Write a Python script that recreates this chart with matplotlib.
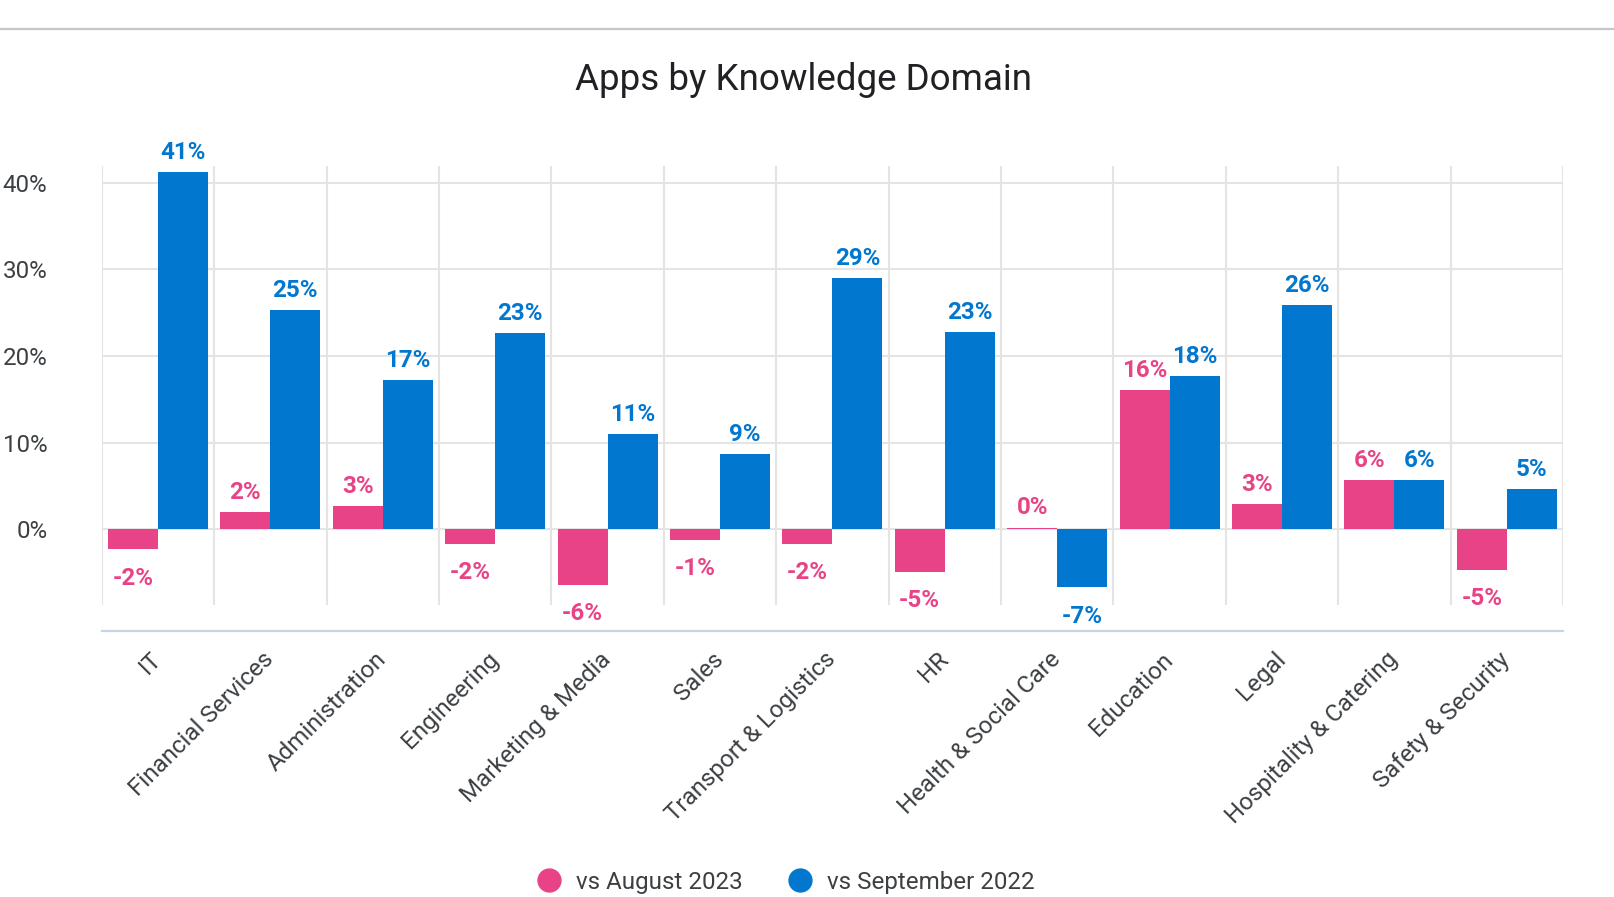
import numpy as np
import matplotlib
matplotlib.use("Agg")
import matplotlib.pyplot as plt
from matplotlib.lines import Line2D

plt.rcParams['font.family'] = ['Roboto', 'DejaVu Sans']

categories = ["IT", "Financial Services", "Administration", "Engineering",
              "Marketing & Media", "Sales", "Transport & Logistics", "HR",
              "Health & Social Care", "Education", "Legal",
              "Hospitality & Catering", "Safety & Security"]
vs_aug_2023 = [-2.3, 2.0, 2.7, -1.7, -6.4, -1.2, -1.7, -4.9, 0.2, 16.1, 2.9, 5.7, -4.7]
vs_sep_2022 = [41.2, 25.3, 17.2, 22.6, 11.0, 8.7, 29.0, 22.8, -6.7, 17.7, 25.9, 5.7, 4.6]
series_names = ["vs August 2023", "vs September 2022"]
ytick_values = [0, 10, 20, 30, 40]

PINK = '#E84387'
BLUE = '#0277CF'
TEXT = '#3c4043'
FS = 17.4

W, H = 1615, 897
fig = plt.figure(figsize=(W / 100, H / 100), dpi=100)
ax_left, ax_right, ax_top, ax_bottom = 101.7, 1563, 166, 631
ax = fig.add_axes([ax_left / W, 1 - ax_bottom / H, (ax_right - ax_left) / W, (ax_bottom - ax_top) / H])

x = np.arange(len(categories))
w = 0.445
ax.set_xlim(-0.5, len(categories) - 0.5)
ax.set_ylim(-11.74, 41.93)

b1 = ax.bar(x - w / 2, vs_aug_2023, w, color=PINK, zorder=3)
b2 = ax.bar(x + w / 2, vs_sep_2022, w, color=BLUE, zorder=3)

# gridlines
ax.set_yticks(ytick_values)
ax.set_yticklabels([f"{v}%" for v in ytick_values])
ax.yaxis.grid(True, color='#e4e4e4', lw=1.5, zorder=0)
ax.set_axisbelow(True)
ax.vlines(np.arange(len(categories) + 1) - 0.5, 0.056, 1.0,
          transform=ax.get_xaxis_transform(), color='#e4e4e4', lw=1.5, zorder=0)

for s in ['top', 'right', 'left']:
    ax.spines[s].set_visible(False)
ax.spines['bottom'].set_color('#c8d3e8')
ax.spines['bottom'].set_linewidth(1.6)

ax.set_xticks(x)
ax.set_xticklabels(categories, rotation=45, ha='right', va='center', rotation_mode='anchor',
                   fontsize=FS, color=TEXT)
ax.tick_params(axis='x', length=0, pad=18)
ax.tick_params(axis='y', length=0, pad=39, labelsize=FS, labelcolor=TEXT)

# data labels
for bars, vals, col in [(b1, vs_aug_2023, PINK), (b2, vs_sep_2022, BLUE)]:
    for rect, v in zip(bars, vals):
        cx = rect.get_x() + rect.get_width() / 2
        lbl = f"{v:.0f}%"
        if v >= 0:
            ax.annotate(lbl, (cx, v), xytext=(0, 9.5), textcoords='offset points',
                        ha='center', va='baseline', fontsize=FS, fontweight='bold', color=col)
        else:
            ax.annotate(lbl, (cx, v), xytext=(0, -25.5), textcoords='offset points',
                        ha='center', va='baseline', fontsize=FS, fontweight='bold', color=col)

# title
fig.text(804 / W, 1 - 90 / H, "Apps by Knowledge Domain", ha='center', va='baseline',
         fontsize=26.5, color='#202124')

# top separator line
fig.add_artist(Line2D([0, 1], [1 - 29 / H] * 2, transform=fig.transFigure,
                      color='#c4c7cb', lw=1.6))

# legend
handles = [Line2D([], [], marker='o', linestyle='', markersize=16.5, color=PINK),
           Line2D([], [], marker='o', linestyle='', markersize=16.5, color=BLUE)]
leg = fig.legend(handles, series_names, loc='center', bbox_to_anchor=(786 / W, 1 - 882 / H),
                 ncol=2, frameon=False, fontsize=FS, handlelength=0.95, handletextpad=0.65,
                 columnspacing=1.9)
for t in leg.get_texts():
    t.set_color(TEXT)

fig.savefig("out.png", dpi=100)
